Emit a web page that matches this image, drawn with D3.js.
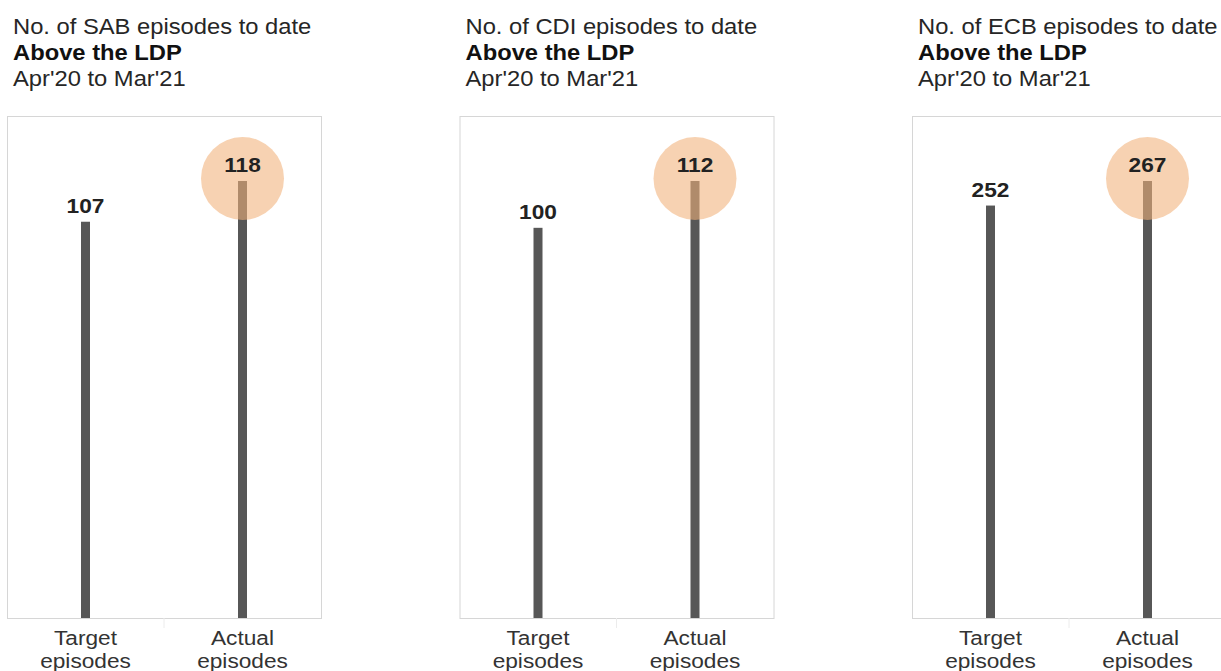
<!DOCTYPE html>
<head>
  <meta charset="utf-8">
  <script src="https://d3js.org/d3.v7.min.js"></script>
  <style>
    body { margin:0; background:#fff; }
    text { font-family: "Liberation Sans", Arial, sans-serif; }
  </style>
</head>
<body>
  <svg id="chart" width="1221" height="671"></svg>
  <script>
    // data
    const measures = ["SAB", "CDI", "ECB"];
    const targetValues = [107, 100, 252];
    const actualValues = [118, 112, 267];
    const categories = [["Target", "episodes"], ["Actual", "episodes"]];
    const subtitle = "Above the LDP";
    const period = "Apr'20 to Mar'21";

    const svg = d3.select("#chart");
    const panelW = 314, boxTop = 116, boxBottom = 618, topY = 181;
    const stretch = 1.08; // the source text is a little wider than Arial
    const panelX = d3.scalePoint().domain(measures).range([7, 912]);

    measures.forEach((m, i) => {
      const g = svg.append("g").attr("transform", `translate(${panelX(m)},0)`);
      const vals = [targetValues[i], actualValues[i]];

      // titles
      const titles = [[`No. of ${m} episodes to date`, "normal", 34],
                      [subtitle, "bold", 60],
                      [period, "normal", 86]];
      g.selectAll("text.title").data(titles).join("text").attr("class", "title")
        .attr("transform", d => `translate(6,${d[2]}) scale(${stretch},1)`)
        .attr("font-size", 22)
        .attr("font-weight", d => d[1])
        .attr("fill", d => d[1] === "bold" ? "#111" : "#262626")
        .text(d => d[0]);

      const x = d3.scaleBand().domain([0, 1]).range([0, panelW]);
      const cx = j => x(j) + x.bandwidth() / 2;
      const y = d3.scaleLinear().domain([0, d3.max(vals)]).range([boxBottom, topY]);

      // frame
      g.append("rect").attr("x", 0.5).attr("y", boxTop + 0.5)
        .attr("width", panelW).attr("height", boxBottom - boxTop)
        .attr("fill", "none").attr("stroke", "#d6d6d6");
      // divider tick
      g.append("line").attr("x1", panelW / 2).attr("x2", panelW / 2)
        .attr("y1", boxBottom).attr("y2", boxBottom + 10)
        .attr("stroke", "#ececec");

      // stems
      g.selectAll("rect.stem").data(vals).join("rect").attr("class", "stem")
        .attr("x", (d, j) => cx(j) - 4.5)
        .attr("width", 9)
        .attr("y", d => y(d))
        .attr("height", d => boxBottom - y(d))
        .attr("fill", "#575757");

      // highlight on the actual value
      g.append("circle")
        .attr("cx", cx(1))
        .attr("cy", y(vals[1]) - 2.5)
        .attr("r", 41.5)
        .attr("fill", "#f2b27a").attr("fill-opacity", 0.58);

      // value labels
      g.selectAll("text.val").data(vals).join("text").attr("class", "val")
        .attr("transform", (d, j) => `translate(${cx(j)},${y(d) - 9}) scale(${stretch},1)`)
        .attr("text-anchor", "middle")
        .attr("font-size", 21).attr("font-weight", "bold").attr("fill", "#222")
        .text(d => d);

      // category labels
      const cat = g.selectAll("text.cat").data(categories).join("text").attr("class", "cat")
        .attr("transform", (d, j) => `translate(${cx(j)},645) scale(${stretch},1)`)
        .attr("text-anchor", "middle")
        .attr("font-size", 21).attr("fill", "#333");
      cat.selectAll("tspan").data(d => d).join("tspan")
        .attr("x", 0)
        .attr("dy", (d, k) => k === 0 ? 0 : 23)
        .text(d => d);
    });
  </script>
</body>
